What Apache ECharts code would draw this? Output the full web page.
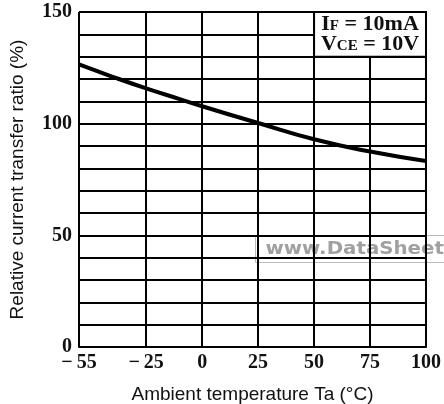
<!DOCTYPE html>
<html>
<head>
<meta charset="utf-8">
<script src="https://cdn.jsdelivr.net/npm/echarts@6/dist/echarts.min.js"></script>
<style>
  html, body { margin: 0; padding: 0; background: #fff; }
  #chart { width: 444px; height: 404px; }
</style>
</head>
<body>
<div id="chart"></div>
<script>
// temperature (°C) and relative CTR (%)
const temps = [-55, -40, -25, -10, 0, 25, 50, 75, 100];
const ratios = [126.5, 121, 115.8, 111, 107.8, 100.3, 93, 87.5, 83.3];
const xTicks = [-55, -25, 0, 25, 50, 75, 100];
const yLabels = [0, 50, 100, 150];
const noteArea = [50, 130, 100, 150]; // x0, y0, x1, y1 of the condition box

const chart = echarts.init(document.getElementById('chart'));

const tickFont = {
  fontFamily: 'Liberation Serif',
  fontWeight: 'bold',
  fontSize: 20,
  color: '#111'
};
const titleFont = { fontFamily: 'Liberation Sans', fontSize: 19, color: '#111' };
const gridLine = { color: '#000', width: 2 };
const noteText = { fontFamily: 'Liberation Serif', fontWeight: 'bold', fontSize: 22, color: '#111', lineHeight: 20 };
const noteSmall = { fontFamily: 'Liberation Serif', fontWeight: 'bold', fontSize: 15, color: '#111', lineHeight: 20, padding: [4, 0, 0, 0] };

const option = {
  animation: false,
  backgroundColor: '#fff',
  grid: { left: 79, right: 18, top: 12, bottom: 57, outerBoundsMode: 'none' },
  xAxis: {
    type: 'value',
    min: -55,
    max: 100,
    name: 'Ambient temperature Ta (°C)',
    nameLocation: 'middle',
    nameGap: 38,
    nameTextStyle: titleFont,
    axisLine: { show: true, lineStyle: gridLine },
    axisTick: { show: false, customValues: xTicks },
    axisLabel: Object.assign({
      customValues: xTicks,
      margin: 6,
      formatter: v => v < 0 ? '\u2212\u2009' + Math.abs(v) : String(v)
    }, tickFont),
    splitLine: { show: true, lineStyle: gridLine }
  },
  yAxis: {
    type: 'value',
    min: 0,
    max: 150,
    interval: 10,
    name: 'Relative current transfer ratio (%)',
    nameLocation: 'middle',
    nameGap: 52,
    nameTextStyle: titleFont,
    axisLine: { show: true, lineStyle: gridLine },
    axisTick: { show: false },
    axisLabel: Object.assign({
      margin: 7,
      formatter: v => yLabels.includes(v) ? String(v) : ''
    }, tickFont),
    splitLine: { show: true, lineStyle: gridLine }
  },
  series: [{
    type: 'line',
    data: temps.map((t, i) => [t, ratios[i]]),
    smooth: true,
    symbol: 'none',
    lineStyle: { color: '#000', width: 4 },
    markArea: {
      silent: true,
      itemStyle: { color: '#fff', borderColor: '#000', borderWidth: 2 },
      label: {
        position: 'inside',
        formatter: '{t|I}{s|F}{t| = 10mA}\n{t|V}{s|CE}{t| = 10V}',
        rich: { t: noteText, s: noteSmall }
      },
      data: [[
        { xAxis: noteArea[0], yAxis: noteArea[1] },
        { xAxis: noteArea[2], yAxis: noteArea[3] }
      ]]
    }
  }],
  graphic: [{
    type: 'group',
    left: 255,
    top: 235,
    z: 100,
    children: [{
      type: 'rect',
      shape: { x: 0, y: 0, width: 200, height: 27 },
      style: { fill: 'rgba(255,255,255,0.6)', stroke: '#bbb', lineWidth: 1 }
    }, {
      type: 'text',
      x: 10,
      y: 14,
      scaleX: 1.1,
      style: {
        text: 'www.DataSheet4U.com',
        font: 'bold 18px "DejaVu Sans"',
        fill: '#a0a0a0',
        verticalAlign: 'middle'
      }
    }]
  }]
};

chart.setOption(option);
</script>
</body>
</html>
